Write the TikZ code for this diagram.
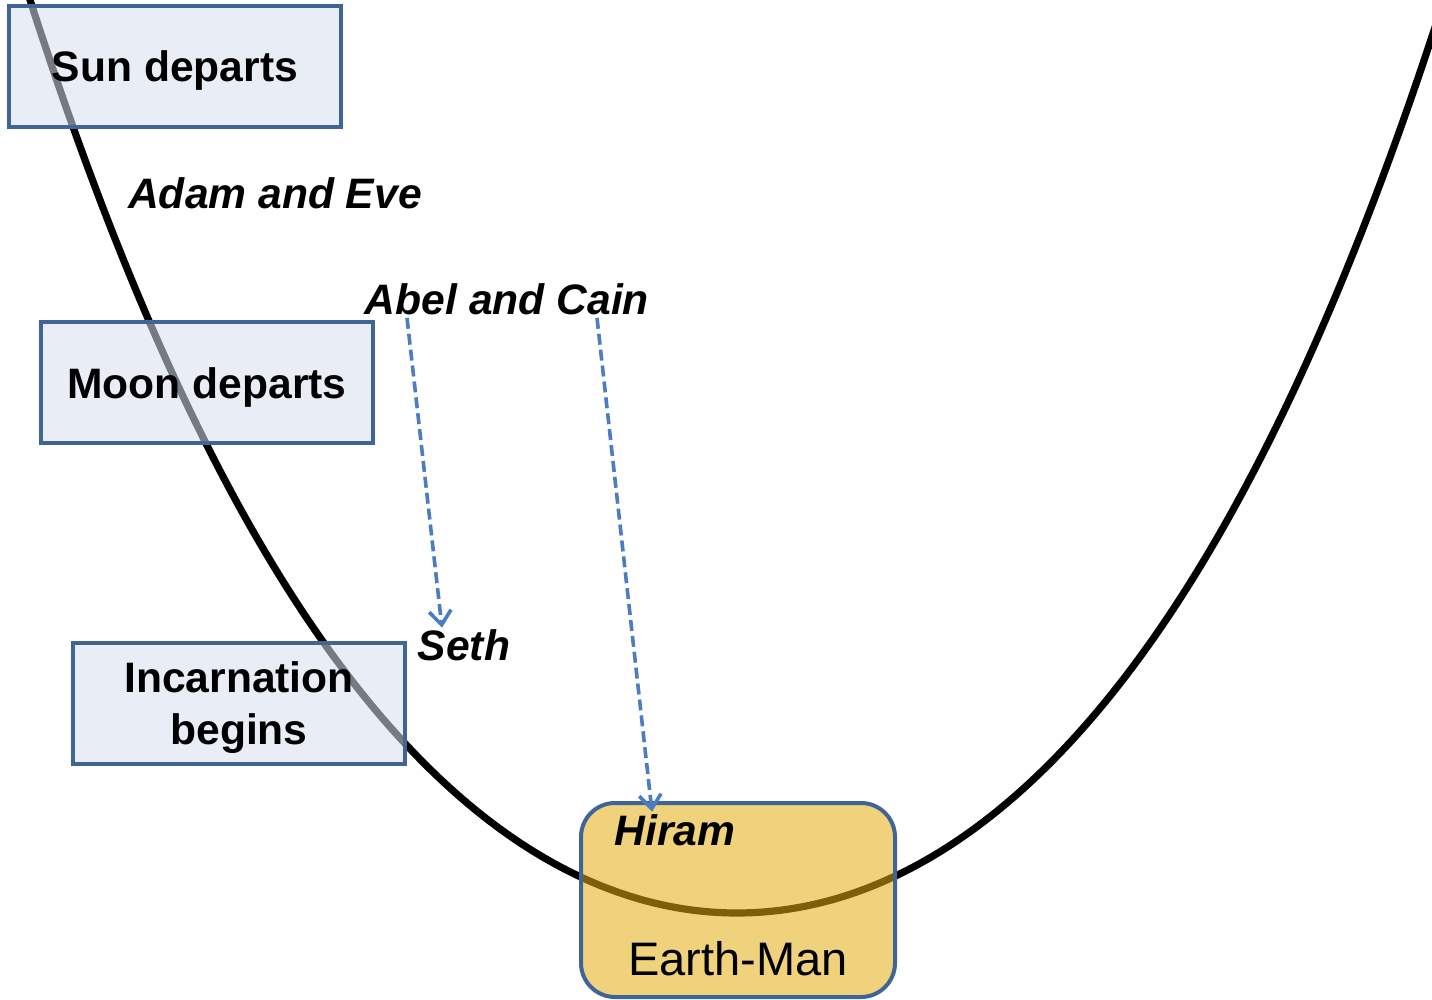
\documentclass[tikz,border=0pt]{standalone}
\usepackage{fontspec}
\setmainfont{Liberation Sans}
\usetikzlibrary{arrows.meta}

\definecolor{boxfill}{HTML}{D7E0EF}
\definecolor{boxline}{HTML}{3F6496}
\definecolor{earthfill}{HTML}{E4AD13}
\definecolor{linkblue}{HTML}{4A7EC1}

\begin{document}
\begin{tikzpicture}[x=0.5pt, y=-0.5pt,
    stage/.style={draw=boxline, line width=2pt, fill=boxfill, fill opacity=0.55, text opacity=1,
                  minimum width=166pt, minimum height=60.5pt, align=center, text depth=0pt,
                  font=\fontsize{21.3}{26}\selectfont\bfseries},
    earthbox/.style={draw=boxline, line width=2pt, fill=earthfill, fill opacity=0.55,
                  rounded corners=17pt, minimum width=157pt, minimum height=97pt},
    person/.style={inner sep=1pt, anchor=base, font=\fontsize{21.3}{26}\selectfont\bfseries\itshape},
    link/.style={linkblue, line width=1.8pt, dash pattern=on 5.5pt off 2.5pt,
                 -{Straight Barb[length=7pt,width=11pt]}}]

    % Page frame (pixel units of the original picture)
    \useasboundingbox (0,0) rectangle (1432,1000);

    % Centres of the three stage boxes and the Earth-Man box
    \coordinate (S) at (175,66.5);    % Sun departs
    \coordinate (M) at (207,383);     % Moon departs
    \coordinate (I) at (239,703.5);   % Incarnation begins
    \coordinate (E) at (738,900);     % Earth-Man

    % The descending and rising curve
    \begin{scope}
        \clip (0,0) rectangle (1432,1000);
        \draw[line width=3.6pt] plot[domain=-7.2:7.1, samples=120, smooth, variable=\u]
            ({737+100*\u}, {913-14.56*\u*\u-0.0742*\u*\u*\u*\u});
    \end{scope}

    % Stage boxes on the left
    \node[stage] (sun) at (S) {Sun departs};
    \node[stage] (moon) at (M) {Moon departs};
    \node[stage] (incarn) at (I) {Incarnation\\begins};

    % Box at the bottom of the curve
    \node[earthbox] (earth) at (E) {};
    \node[anchor=base, font=\fontsize{23.5}{28}\selectfont] (earthlabel) at (738,975) {Earth-Man};

    % Names along the way
    \node[person] (adam) at (275,209) {Adam and Eve};
    \node[person] (abel) at (507,315) {Abel and Cain};
    \node[person] (seth) at (464,661) {Seth};
    \node[person] (hiram) at (675,845) {Hiram};

    % Dashed links
    \draw[link] ([xshift=-50pt]abel.south) -- ([xshift=-11pt]seth.north);
    \draw[link] ([xshift=45pt]abel.south) -- ([xshift=-11.5pt]hiram.north);

\end{tikzpicture}
\end{document}
